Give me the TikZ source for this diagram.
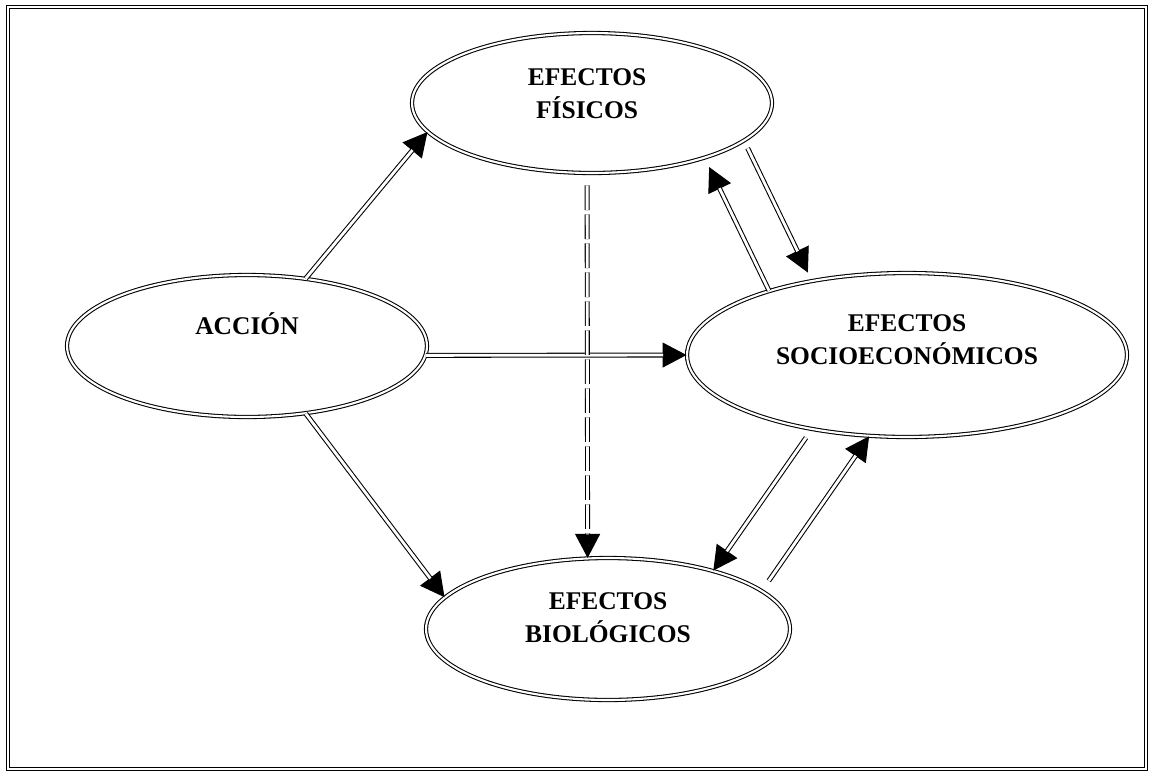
\documentclass[tikz,border=0pt]{standalone}
\usepackage{fontspec}
\setmainfont{Liberation Serif}
\newfontfamily\lblfont{Liberation Serif}
\usetikzlibrary{arrows.meta,shapes.geometric}
\tikzset{
  ovalnode/.style={draw,ellipse,double,double distance=1.2pt,line width=0.6pt,
    inner sep=0pt},
  lbl/.style={align=center,font=\lblfont\bfseries\fontsize{14.5}{19}\selectfont,
    inner sep=0pt},
  tipline/.style={-{Triangle[length=0.48cm,width=0.5cm]},line width=0.6pt},
  dline/.style={double,double distance=1.6pt,line width=0.6pt},
  broken/.style={dash pattern=on 14pt off 2.5pt},
  frame/.style={double,double distance=1pt,line width=0.8pt}
}

\begin{document}
\begin{tikzpicture}[x=0.02cm,y=-0.02cm]
  \useasboundingbox (0,0) rectangle (1150,775);
  \draw[frame] (8,7) rectangle (1146,769);
  % ellipses
  \node[ovalnode,minimum width=7.2cm,minimum height=2.8cm] (fis) at (592,103) {};
  \node[ovalnode,minimum width=7.2cm,minimum height=2.84cm] (acc) at (247,346) {};
  \node[ovalnode,minimum width=8.8cm,minimum height=3.28cm] (soc) at (907,355) {};
  \node[ovalnode,minimum width=7.28cm,minimum height=2.84cm] (bio) at (608,629) {};
  \node[lbl] (fislbl) at ([xshift=-2.8pt,yshift=5.4pt]fis.center) {EFECTOS\\FÍSICOS};
  \node[lbl] (acclbl) at ([yshift=12.5pt]acc.center) {ACCIÓN};
  \node[lbl] (soclbl) at ([yshift=8.8pt]soc.center) {EFECTOS\\SOCIOECONÓMICOS};
  \node[lbl] (biolbl) at ([yshift=6.5pt]bio.center) {EFECTOS\\BIOLÓGICOS};
  % connectors
  \foreach \a/\b/\s/\e in {acc.49/fis.190/0/0, acc.-3/soc.west/0/0,
      acc.-49/bio.169/0/0, soc.155/fis.-26/0/5.7, fis.-14/soc.142/4.6/5.1,
      soc.218/bio.29/5.7/0, bio.14/soc.245/6.8/0}
  {
    \draw[tipline,shorten <=\s pt,shorten >=\e pt] (\a) -- (\b);
    \draw[dline,shorten <=\s pt,shorten >={\e*1pt+0.47cm}] (\a) -- (\b);
  }
  \draw[tipline,broken,shorten <=6.8pt] (fis.266) -- (bio.106);
  \draw[dline,broken,shorten <=6.8pt,shorten >=0.47cm] (fis.266) -- (bio.106);
\end{tikzpicture}
\end{document}
